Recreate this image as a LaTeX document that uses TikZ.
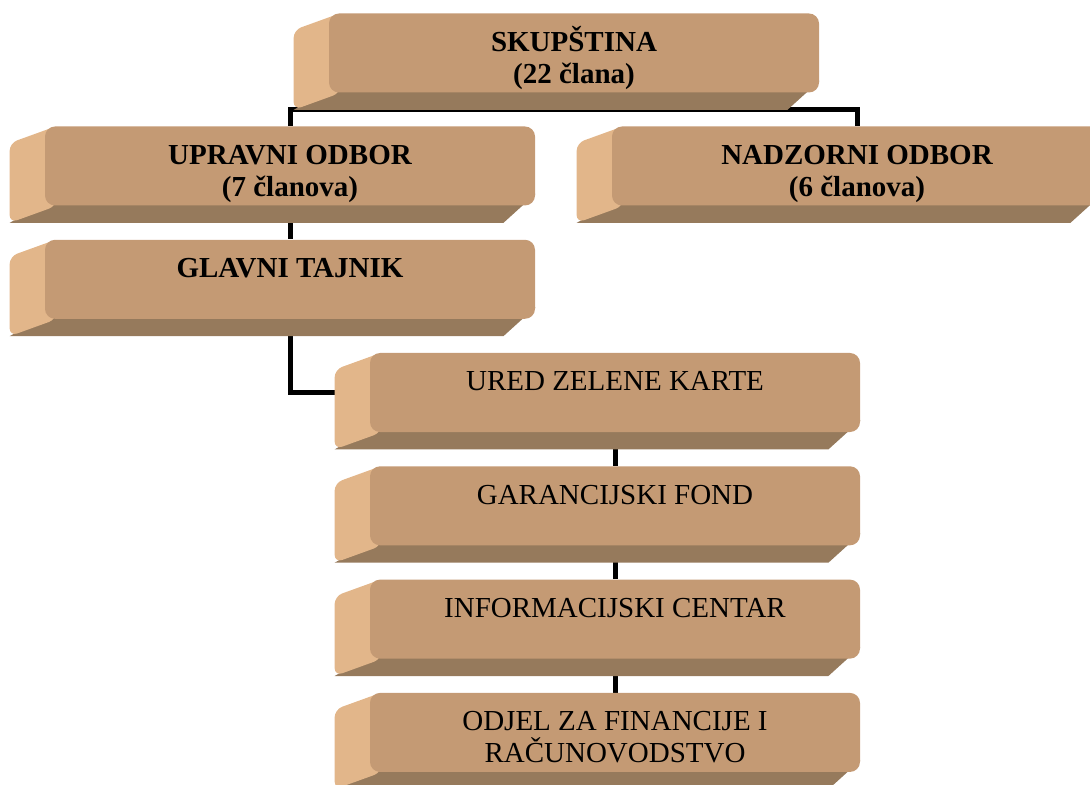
\documentclass[tikz,border=0pt]{standalone}
\usepackage{fontspec}
\setmainfont{Liberation Serif}
\usetikzlibrary{backgrounds}
\definecolor{boxfront}{RGB}{196,154,116}
\definecolor{boxside}{RGB}{226,182,138}
\definecolor{boxbottom}{RGB}{150,122,92}
\tikzstyle{ob}=[shape=rectangle,
                rounded corners=5pt,
                fill=boxfront,
                minimum height=39.5pt,
                minimum width=245pt,
                inner sep=0pt,
                text height=19pt,
                text depth=20.5pt,
                align=center,
                font=\fontsize{14.5}{16}\selectfont]
\tikzstyle{obb}=[ob,
                font=\fontsize{14.5}{16}\selectfont\bfseries]
\tikzstyle{two}=[text height=35pt,
                text depth=4.5pt]
\tikzstyle{link}=[line width=2.5pt]

\begin{document}
\begin{tikzpicture}[x=0.5pt,y=0.5pt,node distance=56.65pt]
\useasboundingbox (0,0) rectangle (1090,-785);

% upper boxes
\node[obb,two] (skup) at (574,-53)   {SKUPŠTINA\\(22 člana)};
\node[obb,two] (upr) at (290,-166)   {UPRAVNI ODBOR\\(7 članova)};
\node[obb,two] (nad) at (857,-166)   {NADZORNI ODBOR\\(6 članova)};
\node[obb] (glav) [below of=upr]     {GLAVNI TAJNIK};

% lower boxes
\node[ob] (ured) at (615,-392.5)     {URED ZELENE KARTE};
\node[ob] (gar) [below of=ured]      {GARANCIJSKI FOND};
\node[ob] (inf) [below of=gar]       {INFORMACIJSKI CENTAR};
\node[ob,two] (odj) [below of=inf]   {ODJEL ZA FINANCIJE I\\RAČUNOVODSTVO};

\coordinate (bus) at (574,-110);

\begin{scope}[on background layer]
% connectors
\draw[link] (skup) -- (bus);
\draw[link] (upr.north) |- (bus) -| (nad.north);
\draw[link] (upr) -- (glav);
\draw[link] (glav) |- (ured);
\draw[link] (ured) -- (gar) -- (inf) -- (odj);
% box depth (slightly under the front face)
\foreach \n in {skup,upr,nad,glav,ured,gar,inf,odj}{
  \fill[boxbottom] ([shift={(6,6)}]\n.south west) -- ([shift={(-35,-17)}]\n.south west)
    -- ([shift={(-32,-17)}]\n.south east) -- ([yshift=6]\n.south east) -- cycle;
  \fill[boxside,rounded corners=4pt] ([xshift=6]\n.north west) -- ([shift={(-35,-17)}]\n.north west)
    -- ([shift={(-35,-17)}]\n.south west) -- ([xshift=6]\n.south west) -- cycle;
}
\end{scope}
\end{tikzpicture}
\end{document}
